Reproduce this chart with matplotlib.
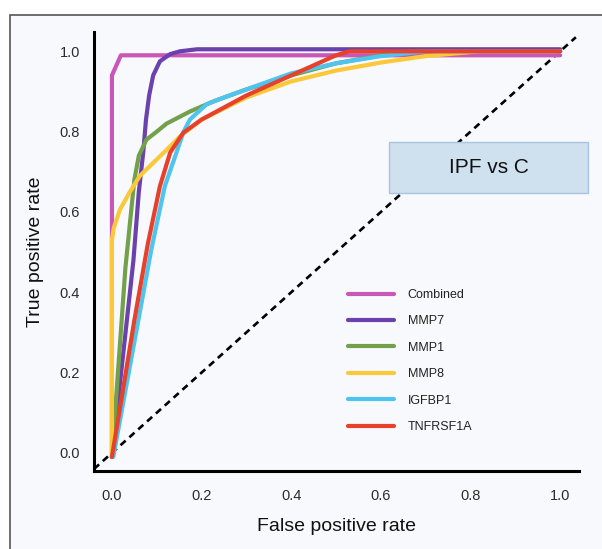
import matplotlib
matplotlib.use("Agg")
import matplotlib.pyplot as plt
from matplotlib.patches import Rectangle

plt.rcParams['font.family'] = ['Liberation Sans', 'DejaVu Sans']

# ROC curves (false positive rate, true positive rate)
combined_fpr = [0.0, 0.0, 0.02, 1.0]
combined_tpr = [-0.01, 0.94, 0.99, 0.99]

mmp7_fpr = [0.0, 0.048, 0.06, 0.07, 0.076, 0.083, 0.092, 0.107, 0.13, 0.152, 0.19, 1.0]
mmp7_tpr = [-0.01, 0.48, 0.65, 0.75, 0.83, 0.89, 0.94, 0.975, 0.993, 1.0, 1.005, 1.005]

mmp1_fpr = [0.0, 0.03, 0.05, 0.06, 0.077, 0.1, 0.122, 0.174, 0.226, 0.3, 0.4, 0.5, 0.6, 0.66, 1.0]
mmp1_tpr = [-0.01, 0.46, 0.68, 0.74, 0.78, 0.80, 0.82, 0.85, 0.875, 0.905, 0.94, 0.97, 0.99, 1.0, 1.0]

mmp8_fpr = [0.0, 0.0, 0.004, 0.018, 0.04, 0.0625, 0.09, 0.115, 0.152, 0.2, 0.3, 0.4, 0.5, 0.6, 0.7, 0.82, 1.0]
mmp8_tpr = [-0.01, 0.53, 0.56, 0.606, 0.65, 0.69, 0.72, 0.747, 0.788, 0.83, 0.885, 0.925, 0.952, 0.972, 0.988, 1.0, 1.0]

igfbp1_fpr = [0.003, 0.088, 0.118, 0.144, 0.16, 0.174, 0.211, 0.25, 0.3, 0.4, 0.5, 0.6, 0.7, 1.0]
igfbp1_tpr = [-0.01, 0.507, 0.664, 0.748, 0.80, 0.83, 0.868, 0.885, 0.905, 0.945, 0.97, 0.988, 1.0, 1.0]

tnf_fpr = [0.0, 0.05, 0.08, 0.107, 0.13, 0.159, 0.2, 0.3, 0.4, 0.5, 0.53, 1.0]
tnf_tpr = [-0.01, 0.33, 0.52, 0.664, 0.748, 0.797, 0.83, 0.89, 0.94, 0.99, 1.0, 1.0]

labels = ["Combined", "MMP7", "MMP1", "MMP8", "IGFBP1", "TNFRSF1A"]
colors = ["#c957b8", "#6b41ad", "#73a04a", "#fbc83a", "#4ec4ee", "#e8412b"]

ticks = [0.0, 0.2, 0.4, 0.6, 0.8, 1.0]
diag = [-0.04, 1.035]

fig = plt.figure(figsize=(6.02, 5.49), dpi=100)
fig.patch.set_facecolor("white")

# outer frame of the panel
frame = Rectangle((10 / 602, -0.05), 1.0, 1 - 15 / 549 + 0.05, transform=fig.transFigure,
                  facecolor="#f7f9fc", edgecolor="#555555", lw=1.2, zorder=-5)
fig.patches.append(frame)

ax = fig.add_axes([94 / 602, 1 - 471 / 549, (579 - 94) / 602, (471 - 32) / 549])
ax.set_facecolor("none")

ax.plot(diag, diag, color="black", ls=(0, (2.6, 1.9)), lw=1.9, zorder=1)

series = [(combined_fpr, combined_tpr), (mmp7_fpr, mmp7_tpr), (mmp1_fpr, mmp1_tpr),
          (mmp8_fpr, mmp8_tpr), (igfbp1_fpr, igfbp1_tpr), (tnf_fpr, tnf_tpr)]
order = [0, 3, 2, 1, 4, 5]
lines = {}
for i in order:
    fpr, tpr = series[i]
    ln, = ax.plot(fpr, tpr, color=colors[i], lw=3.0, solid_joinstyle="round",
                  solid_capstyle="round", zorder=2 + i)
    lines[i] = ln

leg = ax.legend([lines[i] for i in range(6)], labels, loc="upper left",
                bbox_to_anchor=(0.5, 0.44), frameon=False, fontsize=9,
                handlelength=3.7, handletextpad=1.1, labelspacing=1.15)
for t in leg.get_texts():
    t.set_color("#222222")

ax.set_xlim(-0.04, 1.042)
ax.set_ylim(-0.045, 1.048)
ax.set_xticks(ticks)
ax.set_yticks(ticks)
ax.set_xticklabels([f"{t:.1f}" for t in ticks])
ax.set_yticklabels([f"{t:.1f}" for t in ticks])
ax.tick_params(length=0, labelsize=10.5, labelcolor="#2b2b2b")
ax.tick_params(axis="x", pad=13)
ax.tick_params(axis="y", pad=10)
for s in ["top", "right"]:
    ax.spines[s].set_visible(False)
for s in ["left", "bottom"]:
    ax.spines[s].set_linewidth(2.2)
    ax.spines[s].set_color("black")

ax.set_xlabel("False positive rate", fontsize=14, color="#111111", labelpad=11)
ax.set_ylabel("True positive rate", fontsize=14, color="#111111", labelpad=11)

# label box
box = Rectangle((0.618, 0.646), 1.062 - 0.618, 0.775 - 0.646, facecolor="#cfe0ef",
                edgecolor="#a9c4dc", lw=1, zorder=9, clip_on=False)
ax.add_patch(box)
ax.text(0.84, 0.71, "IPF vs C", fontsize=15, color="#111111",
        ha="center", va="center", zorder=10)

fig.savefig("out.png", dpi=100, facecolor=fig.get_facecolor())
